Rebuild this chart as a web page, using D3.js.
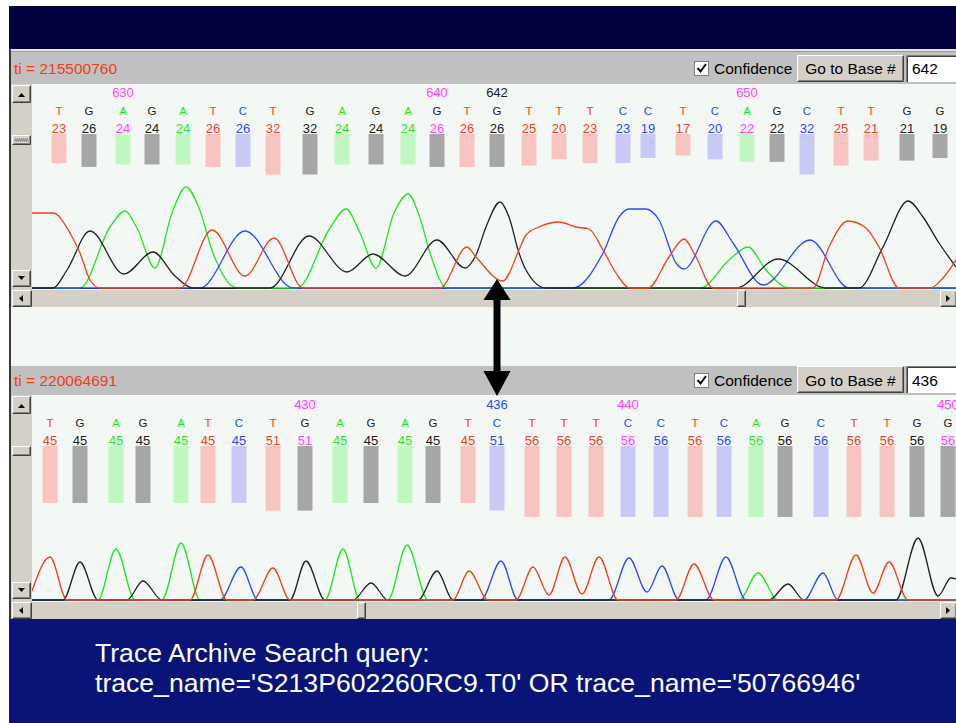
<!DOCTYPE html>
<html>
<head>
<meta charset="utf-8">
<script src="https://cdn.jsdelivr.net/npm/d3@7"></script>
<style>
  body { margin: 0; background: #fff; }
  svg { display: block; font-family: "Liberation Sans", Arial, sans-serif; }
</style>
</head>
<body>
<svg id="chart" width="956" height="723"></svg>
<script>
// ---- data ----
const topTi = "215500760";
const topStart = 628;
const topFocus = 642;
const topBases = ["T","G","A","G","A","T","C","T","G","A","G","A","G","T","G","T","T","T","C","C","T","C","A","G","C","T","T","G","G"];
const topQual = [23,26,24,24,24,26,26,32,32,24,24,24,26,26,26,25,20,23,23,19,17,20,22,22,32,25,21,21,19];
const topPeaks = [27,57,91,120,151,181,211,241,278,310,344,376,405,435,465,497,527,558,591,616,651,683,715,745,775,809,839,875,908];

const topTraceA = [[48,0],[78,61],[93,77],[105,60],[123,20],[140,75],[154,101],[167,80],[181,35],[205,0],
  [265,0],[298,60],[314,79],[328,55],[344,20],[362,75],[376,94],[388,70],[398,35],[415,0],
  [668,0],[697,28],[716,41],[734,18],[757,0]];
const topTraceC = [[168,0],[213,57],[261,0],
  [541,0],[571,35],[587,71],[597,79],[614,79],[627,68],[644,25],[652,19],[684,67],[701,45],[731,3],[778,48],[817,0]];
const topTraceG = [[21,0],[35,18],[58,57],[92,14],[121,36],[143,12],[161,0],
  [238,0],[277,52],[315,16],[341,34],[373,12],[405,48],[433,20],[444,33],[454,61],[468,86],[477,71],[487,35],[494,18],[514,0],
  [704,0],[746,29],[794,0],
  [827,0],[851,41],[876,87],[891,71],[907,45],[924,21]];
const topTraceT = [[0,75],[21,75],[38,55],[48,35],[58,8],[68,0],
  [148,0],[180,58],[213,12],[242,50],[271,0],
  [408,0],[435,41],[444,31],[471,7],[487,38],[494,53],[507,61],[527,66],[544,61],[557,59],[571,38],[584,15],[598,0],
  [616,0],[637,31],[652,49],[664,31],[681,0],
  [781,0],[797,41],[816,67],[834,60],[847,41],[867,0],
  [898,0],[911,10],[924,28]];

const bottomTi = "220064691";
const bottomStart = 422;
const bottomFocus = 436;
const bottomBases = ["T","G","A","G","A","T","C","T","G","A","G","A","G","T","C","T","T","T","C","C","T","C","A","G","C","T","T","G","G"];
const bottomQual = [45,45,45,45,45,45,45,51,51,45,45,45,45,45,51,56,56,56,56,56,56,56,56,56,56,56,56,56,56];
const bottomPeaks = [18,48,84,111,149,176,207,241,273,308,339,373,401,436,465,500,532,564,596,629,663,692,724,753,789,822,855,885,916];

const bottomTraceA = [[66,0],[84,51],[103,0],[130,0],[149,57],[168,0],
  [293,0],[311,51],[328,0],[356,0],[375,55],[396,0],[707,0],[726,27],[746,0]];
const bottomTraceC = [[188,0],[209,33],[226,0],[449,0],[469,39],[486,0],
  [577,0],[597,42],[615,8],[630,34],[647,0],[674,0],[694,43],[714,0],[772,0],[791,27],[806,0]];
const bottomTraceG = [[31,0],[48,38],[66,0],[95,0],[111,19],[130,0],[258,0],[274,39],[293,0],
  [321,0],[339,17],[356,0],[386,0],[405,29],[421,0],[737,0],[756,16],[772,0],
  [864,0],[886,62],[906,4],[919,22],[924,21]];
const bottomTraceT = [[0,9],[18,43],[35,0],[158,0],[176,45],[195,0],[221,0],[241,32],[258,0],
  [421,0],[437,29],[456,0],[484,0],[501,33],[517,5],[533,43],[550,6],[567,43],[586,0],
  [644,0],[662,36],[682,0],[804,0],[824,45],[841,7],[857,38],[876,0]];

const footerLines = ["Trace Archive Search query:",
  "trace_name='S213P602260RC9.T0' OR trace_name='50766946'"];

// ---- styles ----
const baseColor = {A: "#1ee61e", C: "#2a48ff", G: "#1a1a1a", T: "#f23c1e"};
const barColor = {A: "#c0f6c0", C: "#c8c9f4", G: "#a6a6a6", T: "#f8c4c2"};
const tenColor = "#ff40ff";
const chromBg = "#f4f8f4";
const widgetGray = "#d4d0c8";

const svg = d3.select("#chart");
const x = d3.scaleLinear().domain([0, 924]).range([32, 956]);
const barH = d3.scaleLinear().domain([0, 60]).range([0, 76]);

// outer frame
svg.append("rect").attr("x", 9).attr("y", 6).attr("width", 947).attr("height", 44).attr("fill", "#02023e");
svg.append("rect").attr("x", 9).attr("y", 49).attr("width", 947).attr("height", 570).attr("fill", chromBg);
svg.append("rect").attr("x", 11).attr("y", 49).attr("width", 945).attr("height", 3).attr("fill", "#e4e4e4");
svg.append("line").attr("x1", 11).attr("x2", 956).attr("y1", 51.5).attr("y2", 51.5).attr("stroke", "#9a9a9a");
svg.append("rect").attr("x", 9).attr("y", 49).attr("width", 2).attr("height", 570).attr("fill", "#3a3a3a");

function raised(g, x0, y0, w, h) {
  g.append("rect").attr("x", x0).attr("y", y0).attr("width", w).attr("height", h).attr("fill", widgetGray);
  g.append("path").attr("d", `M${x0 + 0.5},${y0 + h - 0.5}V${y0 + 0.5}H${x0 + w - 0.5}`)
    .attr("fill", "none").attr("stroke", "#fff");
  g.append("path").attr("d", `M${x0 + 0.5},${y0 + h - 0.5}H${x0 + w - 0.5}V${y0 + 0.5}`)
    .attr("fill", "none").attr("stroke", "#404040");
  g.append("path").attr("d", `M${x0 + 1.5},${y0 + h - 1.5}H${x0 + w - 1.5}V${y0 + 1.5}`)
    .attr("fill", "none").attr("stroke", "#808080");
}

function drawPanel(p) {
  const g = svg.append("g");
  const y = d3.scaleLinear().domain([0, 100]).range([p.base, p.base - 100]);

  // header strip
  g.append("rect").attr("x", 11).attr("y", p.head).attr("width", 945).attr("height", p.top - p.head).attr("fill", "#c0c0c0");
  g.append("text").attr("x", 14).attr("y", p.textY).attr("fill", "#f03c1e")
    .style("font-size", "15.5px").text("ti = " + p.ti);

  // checkbox + label
  const cy = p.checkY;
  g.append("rect").attr("x", 694.5).attr("y", cy + 0.5).attr("width", 14).attr("height", 14)
    .attr("fill", "#fff").attr("stroke", "#808080");
  g.append("path").attr("d", `M${697.5},${cy + 7} l3,3.5 l5.5,-7.5`)
    .attr("fill", "none").attr("stroke", "#000").attr("stroke-width", 2);
  g.append("text").attr("x", 714).attr("y", p.textY).attr("fill", "#000")
    .style("font-size", "15.5px").text("Confidence");

  // button + field
  raised(g, 797, p.btnY, 107, 27);
  g.append("text").attr("x", 850.5).attr("y", p.textY).attr("text-anchor", "middle").attr("fill", "#000")
    .style("font-size", "15.5px").text("Go to Base #");
  g.append("rect").attr("x", 906).attr("y", p.btnY).attr("width", 50).attr("height", 27).attr("fill", "#fff");
  g.append("path").attr("d", `M${906.5},${p.btnY + 27}V${p.btnY + 0.5}H956`).attr("fill", "none").attr("stroke", "#808080");
  g.append("path").attr("d", `M${907.5},${p.btnY + 27}V${p.btnY + 1.5}H956`).attr("fill", "none").attr("stroke", "#404040");
  g.append("text").attr("x", 912).attr("y", p.textY).attr("fill", "#000")
    .style("font-size", "15.5px").text(p.focus);

  // chromatogram background
  g.append("rect").attr("x", 32).attr("y", p.top).attr("width", 924).attr("height", p.base - p.top + 2).attr("fill", chromBg);

  // base calls
  const calls = p.bases.map((b, i) => ({b, q: p.qual[i], pos: p.peaks[i], n: p.start + i}));
  g.selectAll(".bar").data(calls).enter().append("rect")
    .attr("x", d => x(d.pos) - 7.5).attr("y", p.barTop)
    .attr("width", 15).attr("height", d => barH(d.q))
    .attr("fill", d => barColor[d.b]);
  g.selectAll(".letter").data(calls).enter().append("text")
    .attr("x", d => x(d.pos)).attr("y", p.letterY).attr("text-anchor", "middle")
    .attr("fill", d => baseColor[d.b]).style("font-size", "11.5px").text(d => d.b);
  g.selectAll(".qual").data(calls).enter().append("text")
    .attr("x", d => x(d.pos)).attr("y", p.qualY).attr("text-anchor", "middle")
    .attr("fill", d => d.n % 10 === 0 ? tenColor : baseColor[d.b])
    .style("font-size", "13px").text(d => d.q);
  g.selectAll(".num").data(calls.filter(d => d.n % 10 === 0 || d.n === p.focus)).enter().append("text")
    .attr("x", d => x(d.pos)).attr("y", p.numY).attr("text-anchor", "middle")
    .attr("fill", d => d.n === p.focus ? baseColor[d.b] : tenColor)
    .style("font-size", "13px").text(d => d.n);

  // traces
  const clipId = "clip" + p.head;
  g.append("clipPath").attr("id", clipId).append("rect")
    .attr("x", 32).attr("y", p.top).attr("width", 924).attr("height", p.base - p.top + 2);
  const tg = g.append("g").attr("clip-path", `url(#${clipId})`);
  tg.append("line").attr("x1", 32).attr("x2", 956).attr("y1", p.base + 0.5).attr("y2", p.base + 0.5).attr("stroke", "#1a1a1a");
  const line = d3.line().x(d => x(d[0])).y(d => y(d[1])).curve(d3.curveMonotoneX);
  [["A", p.traceA], ["C", p.traceC], ["G", p.traceG], ["T", p.traceT]].forEach(([b, pts]) => {
    let full = pts.slice();
    if (full[0][0] > 0) full.unshift([0, 0]);
    if (full[full.length - 1][0] < 924) full.push([924, 0]);
    tg.append("path").attr("d", line(full)).attr("fill", "none")
      .attr("stroke", baseColor[b] === "#1a1a1a" ? "#202020" : baseColor[b]).attr("stroke-width", 1.3);
  });

  // vertical scrollbar
  g.append("rect").attr("x", 11).attr("y", p.top).attr("width", 21).attr("height", p.base - p.top + 2).attr("fill", widgetGray);
  raised(g, 12, p.top + 1, 19, 18);
  g.append("path").attr("d", `M${18},${p.top + 13}h7l-3.5,-4z`).attr("fill", "#000");
  raised(g, 12, p.thumbY, 19, 10);
  if (p.grip) {
    g.append("rect").attr("x", 14).attr("y", p.thumbY + 3).attr("width", 15).attr("height", 4)
      .attr("fill", "#9a9a9a").attr("stroke", "#ececec").attr("stroke-dasharray", "1,1");
  }
  raised(g, 12, p.base - 18, 19, 17);
  g.append("path").attr("d", `M${18},${p.base - 12}h7l-3.5,4z`).attr("fill", "#000");

  // horizontal scrollbar
  g.append("rect").attr("x", 11).attr("y", p.base + 2).attr("width", 945).attr("height", 17).attr("fill", widgetGray);
  raised(g, 12, p.base + 2, 20, 17);
  g.append("path").attr("d", `M${19},${p.base + 10.5}l4,-3.5v7z`).attr("fill", "#000");
  raised(g, p.hThumb, p.base + 2, 9, 17);
  raised(g, 940, p.base + 2, 17, 17);
  g.append("path").attr("d", `M${950},${p.base + 10.5}l-4,-3.5v7z`).attr("fill", "#000");
}

drawPanel({head: 52, top: 84, base: 288, numY: 97, letterY: 115, qualY: 133, barTop: 134,
  textY: 74, btnY: 55, checkY: 61, thumbY: 135, grip: true, hThumb: 737,
  ti: topTi, start: topStart, focus: topFocus, bases: topBases, qual: topQual, peaks: topPeaks,
  traceA: topTraceA, traceC: topTraceC, traceG: topTraceG, traceT: topTraceT});

drawPanel({head: 366, top: 395, base: 600, numY: 409, letterY: 427, qualY: 445, barTop: 446,
  textY: 386, btnY: 366, checkY: 373, thumbY: 446, grip: false, hThumb: 357,
  ti: bottomTi, start: bottomStart, focus: bottomFocus, bases: bottomBases, qual: bottomQual, peaks: bottomPeaks,
  traceA: bottomTraceA, traceC: bottomTraceC, traceG: bottomTraceG, traceT: bottomTraceT});

// double arrow linking the two focus bases
const ax = x(topPeaks[topFocus - topStart]);
svg.append("rect").attr("x", ax - 3.5).attr("y", 298).attr("width", 7).attr("height", 76).attr("fill", "#000");
svg.append("path").attr("d", `M${ax},279L${ax + 13.5},300H${ax - 13.5}Z`).attr("fill", "#000");
svg.append("path").attr("d", `M${ax},396L${ax + 13.5},371H${ax - 13.5}Z`).attr("fill", "#000");

// footer
svg.append("rect").attr("x", 9).attr("y", 619).attr("width", 947).attr("height", 104).attr("fill", "#0a1478");
svg.selectAll(".foot").data(footerLines).enter().append("text")
  .attr("x", 95).attr("y", (d, i) => 662 + i * 30).attr("fill", "#fff")
  .style("font-size", "26.6px").text(d => d);
</script>
</body>
</html>
